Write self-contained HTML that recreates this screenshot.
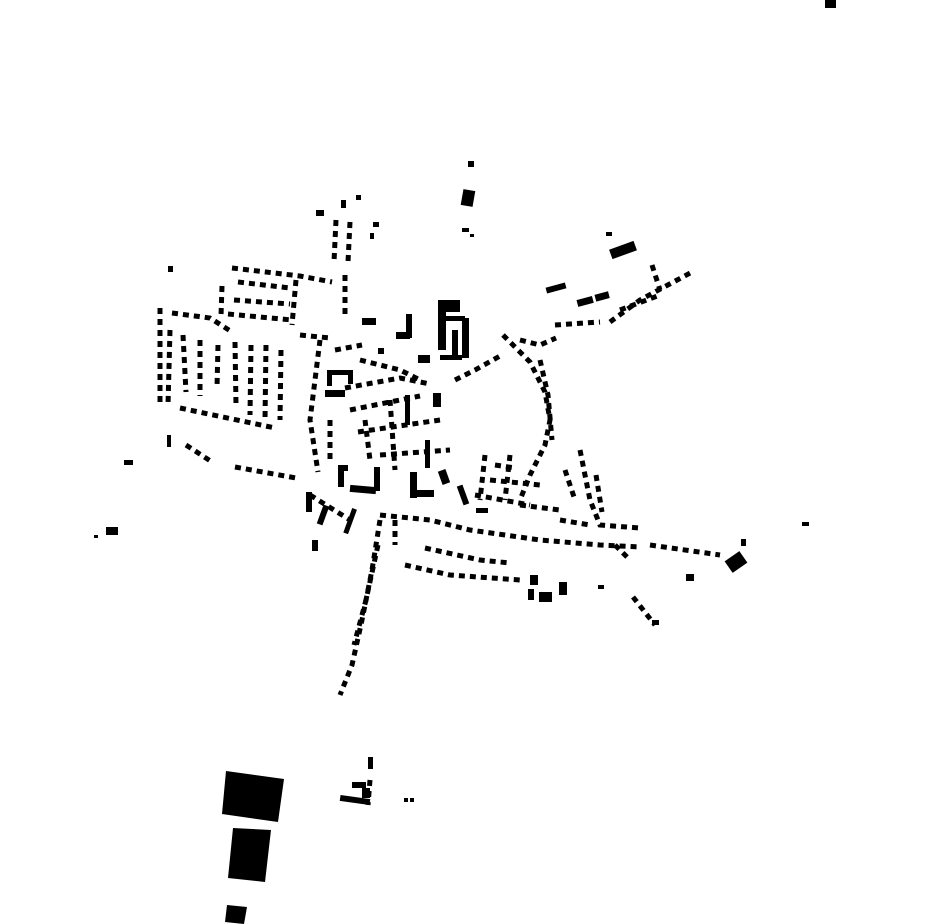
<!DOCTYPE html>
<html><head><meta charset="utf-8"><style>html,body{margin:0;padding:0;background:#fff}svg{display:block}</style></head>
<body>
<svg width="930" height="924" viewBox="0 0 930 924" xmlns="http://www.w3.org/2000/svg">
<g fill="#000">
<rect x="825" y="0" width="11" height="8"/>
<rect x="468" y="161" width="6" height="6"/>
<rect x="462" y="190" width="12" height="16" transform="rotate(10 468 198)"/>
<rect x="462" y="228" width="7" height="4"/><rect x="470" y="234" width="4" height="3"/>
<rect x="606" y="232" width="6" height="4"/>
<rect x="610" y="245" width="26" height="10" transform="rotate(-20 623 250)"/>
<rect x="546" y="285" width="20" height="6" transform="rotate(-15 556 288)"/>
<rect x="577" y="298" width="16" height="7" transform="rotate(-15 585 301)"/>
<rect x="595" y="293" width="14" height="7" transform="rotate(-15 602 296)"/>
<polygon points="226,771 284,779 278,822 222,814"/>
<polygon points="233,828 271,830 265,882 228,878"/>
<polygon points="227,905 247,907 244,924 225,922"/>
<rect x="368" y="757" width="5" height="12"/>
<rect x="352" y="782" width="14" height="6"/><rect x="340" y="797" width="30" height="6" transform="rotate(8 355 800)"/><rect x="362" y="788" width="8" height="10"/>
<rect x="404" y="798" width="4" height="4"/><rect x="410" y="798" width="4" height="4"/>
<rect x="727" y="555" width="18" height="14" transform="rotate(-35 736 562)"/>
<rect x="741" y="539" width="5" height="7"/><rect x="802" y="522" width="7" height="4"/>
<rect x="686" y="574" width="8" height="7"/>
<rect x="106" y="527" width="12" height="8"/><rect x="94" y="535" width="4" height="3"/>
<rect x="124" y="460" width="9" height="5"/>
<rect x="167" y="435" width="4" height="12"/><rect x="168" y="266" width="5" height="6"/>
<rect x="316" y="210" width="8" height="6"/><rect x="373" y="222" width="6" height="5"/><rect x="370" y="233" width="4" height="6"/><rect x="356" y="195" width="5" height="5"/><rect x="341" y="200" width="5" height="8"/>
<!-- north complex -->
<rect x="438" y="300" width="22" height="12"/>
<rect x="438" y="310" width="8" height="40"/>
<rect x="462" y="318" width="7" height="40"/>
<rect x="452" y="330" width="6" height="25"/>
<rect x="445" y="316" width="20" height="5"/>
<rect x="418" y="355" width="12" height="8"/><rect x="440" y="355" width="22" height="5"/>
<rect x="406" y="314" width="6" height="24"/><rect x="396" y="332" width="14" height="7"/>
<rect x="362" y="318" width="14" height="7"/><rect x="378" y="348" width="6" height="6"/>
<!-- central solids -->
<rect x="327" y="370" width="24" height="5"/><rect x="327" y="370" width="5" height="16"/><rect x="348" y="370" width="5" height="14"/>
<rect x="325" y="390" width="20" height="7"/>
<rect x="338" y="465" width="6" height="22"/><rect x="338" y="465" width="10" height="6"/>
<rect x="350" y="486" width="26" height="7" transform="rotate(5 363 489)"/>
<rect x="374" y="467" width="6" height="24"/>
<rect x="410" y="472" width="7" height="26"/><rect x="414" y="490" width="20" height="7"/>
<rect x="433" y="393" width="8" height="14"/>
<rect x="440" y="470" width="8" height="14" transform="rotate(-20 444 477)"/>
<rect x="425" y="440" width="5" height="28"/><rect x="405" y="395" width="5" height="30"/>
<rect x="320" y="505" width="6" height="20" transform="rotate(20 323 515)"/>
<rect x="348" y="508" width="5" height="26" transform="rotate(20 350 520)"/>
<rect x="312" y="540" width="6" height="11"/>
<rect x="306" y="492" width="6" height="20"/>
<rect x="460" y="485" width="6" height="20" transform="rotate(-20 463 495)"/>
<rect x="476" y="508" width="12" height="5"/>
<rect x="530" y="575" width="8" height="10"/><rect x="539" y="592" width="13" height="10"/><rect x="528" y="589" width="6" height="11"/><rect x="559" y="582" width="8" height="13"/><rect x="598" y="585" width="6" height="4"/>
<rect x="652" y="620" width="7" height="5"/>
</g>
<g fill="none" stroke="#000" stroke-width="5" stroke-dasharray="6 5">
<!-- west suburb -->
<path d="M232,268 L300,276 L332,282"/>
<path d="M222,286 L221,316"/>
<path d="M238,282 L290,288"/>
<path d="M234,300 L290,304"/>
<path d="M228,314 L292,320"/>
<path d="M296,280 L292,325"/>
<path d="M160,308 L160,402"/>
<path d="M172,313 L210,318 L232,332"/>
<path d="M170,330 L168,405"/>
<path d="M183,335 L186,392"/>
<path d="M200,340 L200,396"/>
<path d="M218,345 L217,388"/>
<path d="M235,342 L236,405"/>
<path d="M251,345 L250,415"/>
<path d="M266,345 L265,420"/>
<path d="M281,350 L280,420"/>
<path d="M180,408 L275,428"/>
<path d="M186,445 L212,462"/>
<path d="M235,467 L296,478"/>
<!-- north stem -->
<path d="M336,220 L334,262"/>
<path d="M350,222 L348,262"/>
<path d="M345,275 L345,318"/>
<path d="M300,335 L330,338"/>
<!-- central -->
<path d="M320,340 L310,420 L318,472"/>
<path d="M335,350 L362,345"/>
<path d="M345,388 L400,378 L430,384"/>
<path d="M350,410 L420,396"/>
<path d="M358,432 L440,420"/>
<path d="M380,455 L450,450"/>
<path d="M360,360 L400,370 L420,380"/>
<path d="M390,400 L395,470"/>
<path d="M365,420 L370,460"/>
<path d="M330,420 L330,460"/>
<path d="M310,495 L350,520"/>
<path d="M455,380 L475,370 L500,356"/>
<!-- east ring -->
<path d="M503,335 L530,362 L545,392 L550,420 L545,445 L530,475 L520,500"/>
<path d="M520,340 L540,345 L556,338"/>
<path d="M540,360 L548,395 L552,440"/>
<path d="M485,455 L480,500"/>
<path d="M495,465 L515,468"/>
<path d="M490,480 L540,485"/>
<path d="M475,495 L530,505"/>
<path d="M510,455 L505,500"/>
<path d="M520,505 L560,510"/>
<!-- southern rows -->
<path d="M380,515 L430,520 L470,530 L540,540 L600,545 L640,547"/>
<path d="M405,565 L450,575 L520,580"/>
<path d="M425,548 L480,560 L510,563"/>
<path d="M395,520 L395,545"/>
<path d="M380,520 L372,570 L362,620 L352,665 L340,695"/>
<path d="M378,545 L366,600 L354,645"/>
<path d="M580,450 L590,500 L600,525 L640,528"/>
<path d="M596,475 L602,512"/>
<path d="M560,520 L590,525"/>
<path d="M565,470 L575,500"/>
<path d="M650,545 L720,555"/>
<path d="M615,545 L630,560"/>
<path d="M633,597 L655,625"/>
<path d="M610,322 L640,300 L692,272"/>
<path d="M555,325 L600,322"/>
<path d="M620,310 L660,295"/>
<path d="M652,265 L660,290"/>
<path d="M370,780 L368,805"/>
</g>
</svg>
</body></html>
